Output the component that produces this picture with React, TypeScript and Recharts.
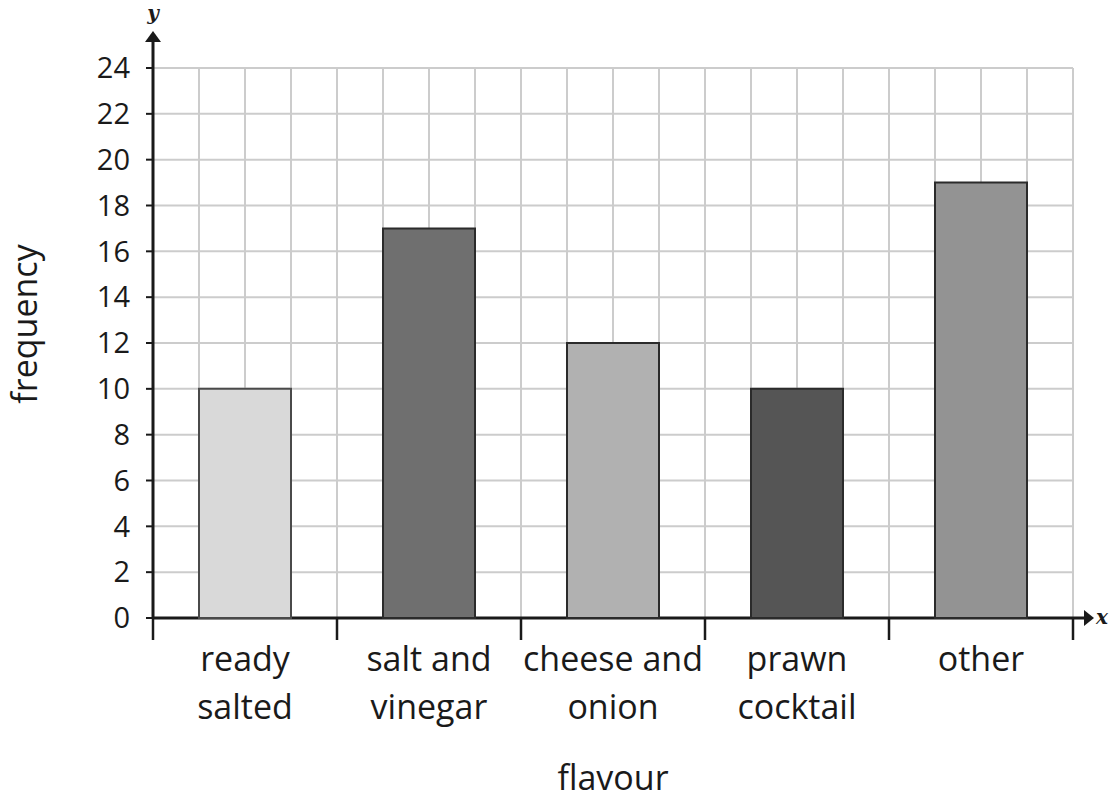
import React from 'react';
import { BarChart, Bar, Cell, XAxis, YAxis, CartesianGrid } from 'recharts';

// chart data
const flavours = ['ready\nsalted', 'salt and\nvinegar', 'cheese and\nonion', 'prawn\ncocktail', 'other'];
const frequencies = [10, 17, 12, 10, 19];
const barColors = ['#d9d9d9', '#6f6f6f', '#b1b1b1', '#555555', '#939393'];
const barStrokes = ['#4a4a4a', '#2b2b2b', '#2b2b2b', '#2b2b2b', '#2b2b2b'];
const yTicks = [0, 2, 4, 6, 8, 10, 12, 14, 16, 18, 20, 22, 24];

const data = flavours.map((name, i) => ({ name, value: frequencies[i] }));

const W = 1113;
const H = 800;
const Y_AXIS_W = 60;
const X_AXIS_H = 60;
const margin = { top: 68, right: 40, bottom: 182 - X_AXIS_H, left: 153 - Y_AXIS_W };
const plotLeft = margin.left + Y_AXIS_W;
const plotW = W - plotLeft - margin.right;
const plotBottom = H - margin.bottom - X_AXIS_H;
const bandW = plotW / flavours.length;
const font = '"Open Sans", "Noto Sans", sans-serif';
const ink = '#1a1a1a';

const CategoryTick = (props: any) => {
  const { x, payload, index } = props;
  const half = bandW / 2;
  const lines = String(payload.value).split('\n');
  return (
    <g>
      <line x1={x - half} y1={plotBottom} x2={x - half} y2={plotBottom + 22} stroke={ink} strokeWidth={2.5} />
      {index === flavours.length - 1 && (
        <line x1={x + half} y1={plotBottom} x2={x + half} y2={plotBottom + 22} stroke={ink} strokeWidth={2.5} />
      )}
      <text x={x} y={plotBottom + 53} textAnchor="middle" fontSize={34} fontFamily={font} fill={ink}>
        {lines.map((l, i) => (
          <tspan key={i} x={x} dy={i === 0 ? 0 : 48}>
            {l}
          </tspan>
        ))}
      </text>
    </g>
  );
};

const Axes = () => {
  const ax = plotLeft;
  const ay = plotBottom;
  const right = W - margin.right;
  return (
    <g>
      <line x1={ax} y1={ay} x2={ax} y2={40} stroke={ink} strokeWidth={3} />
      <polygon points={`${ax - 8},${42} ${ax + 8},${42} ${ax},${31}`} fill={ink} />
      <text x={ax} y={20} textAnchor="middle" fontSize={20} fontStyle="italic" fontWeight="bold" fontFamily="'DejaVu Serif', serif" fill={ink}>
        y
      </text>
      <line x1={ax} y1={ay} x2={right + 12} y2={ay} stroke={ink} strokeWidth={3} />
      <polygon points={`${right + 11},${ay - 8} ${right + 11},${ay + 8} ${right + 21},${ay}`} fill={ink} />
      <text x={right + 29} y={ay + 6} textAnchor="middle" fontSize={20} fontStyle="italic" fontWeight="bold" fontFamily="'DejaVu Serif', serif" fill={ink}>
        x
      </text>
      <text x={28} y={324} textAnchor="middle" fontSize={34} fontFamily={font} fill={ink} transform="rotate(-90 28 324)" dominantBaseline="middle">
        frequency
      </text>
      <text x={plotLeft + plotW / 2} y={790} textAnchor="middle" fontSize={34} fontFamily={font} fill={ink}>
        flavour
      </text>
    </g>
  );
};

export default function App() {
  return (
    <div style={{ position: 'absolute', left: 0, top: 0, width: W, height: H, background: '#fff' }}>
      <BarChart width={W} height={H} data={data} margin={margin} barSize={bandW / 2}>
        <CartesianGrid
          stroke="#cccccc"
          strokeWidth={2}
          verticalCoordinatesGenerator={({ offset }: any) =>
            Array.from({ length: 21 }, (_, i) => offset.left + (offset.width * i) / 20)
          }
        />
        <XAxis
          dataKey="name"
          height={X_AXIS_H}
          axisLine={false}
          tickLine={false}
          tick={<CategoryTick />}
          interval={0}
        />
        <YAxis
          domain={[0, 24]}
          ticks={yTicks}
          width={Y_AXIS_W}
          axisLine={false}
          tickSize={7}
          tickMargin={16}
          tickLine={{ stroke: ink, strokeWidth: 2 }}
          tick={{ fontSize: 29, fontFamily: font, fill: ink }}
          interval={0}
        />
        <Bar dataKey="value" strokeWidth={2} isAnimationActive={false}>
          {data.map((d, i) => (
            <Cell key={d.name} fill={barColors[i]} stroke={barStrokes[i]} />
          ))}
        </Bar>
        <Axes />
      </BarChart>
    </div>
  );
}
